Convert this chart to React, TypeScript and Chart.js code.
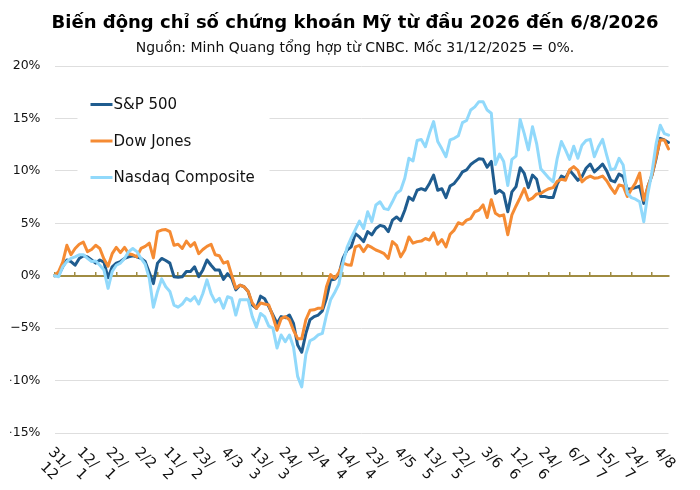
import React, { useEffect, useRef } from 'react';
import { Chart, registerables } from 'chart.js';

Chart.register(...registerables);

const FONT = '"DejaVu Sans", Verdana, sans-serif';

const titleText = 'Biến động chỉ số chứng khoán Mỹ từ đầu 2026 đến 6/8/2026';
const subtitleText = 'Nguồn: Minh Quang tổng hợp từ CNBC. Mốc 31/12/2025 = 0%.';

const categories = [
  '31/12',
  '2/1', '5/1', '6/1', '7/1', '8/1', '9/1', '12/1', '13/1', '14/1', '15/1', '16/1', '20/1', '21/1', '22/1', '23/1', '26/1', '27/1', '28/1', '29/1', '30/1',
  '2/2', '3/2', '4/2', '5/2', '6/2', '9/2', '10/2', '11/2', '12/2', '13/2', '17/2', '18/2', '19/2', '20/2', '23/2', '24/2', '25/2', '26/2', '27/2',
  '2/3', '3/3', '4/3', '5/3', '6/3', '9/3', '10/3', '11/3', '12/3', '13/3', '16/3', '17/3', '18/3', '19/3', '20/3', '23/3', '24/3', '25/3', '26/3', '27/3', '30/3', '31/3',
  '1/4', '2/4', '6/4', '7/4', '8/4', '9/4', '10/4', '13/4', '14/4', '15/4', '16/4', '17/4', '20/4', '21/4', '22/4', '23/4', '24/4', '27/4', '28/4', '29/4', '30/4',
  '1/5', '4/5', '5/5', '6/5', '7/5', '8/5', '11/5', '12/5', '13/5', '14/5', '15/5', '18/5', '19/5', '20/5', '21/5', '22/5', '26/5', '27/5', '28/5', '29/5',
  '1/6', '2/6', '3/6', '4/6', '5/6', '8/6', '9/6', '10/6', '11/6', '12/6', '15/6', '16/6', '17/6', '18/6', '22/6', '23/6', '24/6', '25/6', '26/6', '29/6', '30/6',
  '1/7', '2/7', '6/7', '7/7', '8/7', '9/7', '10/7', '13/7', '14/7', '15/7', '16/7', '17/7', '20/7', '21/7', '22/7', '23/7', '24/7', '27/7', '28/7', '29/7', '30/7', '31/7',
  '3/8', '4/8', '5/8', '6/8',
];

const sp500 = [
  0, 0.05, 0.85, 1.5, 1.35, 1.0, 1.65, 1.9, 1.8, 1.5,
  1.2, 1.5, 1.3, -0.2, 0.85, 1.2, 1.35, 1.65, 1.8, 1.9,
  1.8, 1.65, 1.35, 0.3, -0.75, 1.2, 1.65, 1.45, 1.2, -0.1,
  -0.15, -0.1, 0.4, 0.4, 0.85, -0.1, 0.55, 1.5, 1.0, 0.55,
  0.55, -0.35, 0.2, -0.25, -1.35, -0.9, -1.05, -1.5, -2.8, -3.1,
  -1.95, -2.2, -2.95, -3.75, -4.55, -3.9, -4.0, -3.75, -4.55, -6.6,
  -7.3, -5.5, -4.2, -3.9, -3.75, -3.35, -2.15, -0.4, -0.35, 0.1,
  1.65, 2.45, 2.75, 4.0, 3.7, 3.25, 4.2, 3.9, 4.5, 4.8,
  4.7, 4.2, 5.3, 5.6, 5.25, 6.25, 7.5, 7.2, 8.15, 8.3,
  8.15, 8.8, 9.6, 8.15, 8.3, 7.45, 8.55, 8.8, 9.3, 9.9,
  10.1, 10.6, 10.9, 11.15, 11.1, 10.35, 10.9, 7.85, 8.15, 7.85,
  6.1, 8.0, 8.5, 10.3, 9.75, 8.4, 9.6, 9.2, 7.55, 7.55,
  7.45, 7.45, 8.75, 9.5, 9.3, 10.05, 9.6, 9.1, 9.45, 10.25,
  10.65, 9.9, 10.25, 10.65, 10.0, 9.1, 8.95, 9.7, 9.45, 8.25,
  8.3, 8.4, 8.55, 6.9, 8.5, 9.6, 11.2, 13.1, 12.95, 12.7,
];

const dowJones = [
  0, 0.4, 1.3, 2.9, 2.0, 2.6, 3.0, 3.2, 2.3, 2.5,
  2.9, 2.6, 1.6, 0.9, 2.1, 2.7, 2.2, 2.7, 2.1, 2.0,
  1.8, 2.6, 2.8, 3.1, 1.7, 4.2, 4.35, 4.4, 4.2, 2.9,
  3.0, 2.6, 3.3, 2.8, 3.15, 2.1, 2.5, 2.8, 3.0, 2.0,
  1.9, 1.2, 1.35, 0.05, -1.2, -0.9, -1.05, -1.5, -2.6, -3.1,
  -2.6, -2.7, -2.8, -3.9, -5.2, -4.1, -3.9, -4.2, -5.2, -6.0,
  -6.0, -4.2, -3.3, -3.25, -3.1, -3.1, -1.05, 0.1, -0.25, 0.3,
  1.2, 1.05, 1.0, 2.75, 2.9, 2.3, 2.9, 2.7, 2.45, 2.3,
  2.1, 1.65, 3.25, 2.9, 1.8, 2.45, 3.7, 3.1, 3.25, 3.3,
  3.55, 3.4, 4.1, 3.0, 3.45, 2.75, 3.95, 4.35, 5.05, 4.9,
  5.3, 5.45, 6.1, 6.25, 6.75, 5.55, 7.25, 5.95, 5.7, 5.8,
  3.9, 5.8, 6.65, 7.45, 8.3, 7.2, 7.4, 7.8, 7.85, 8.1,
  8.3, 8.4, 9.0, 9.2, 9.1, 10.1, 10.4, 10.05, 8.95, 9.3,
  9.5, 9.3, 9.35, 9.5, 9.05, 8.4, 7.85, 8.65, 8.55, 7.55,
  8.25, 8.85, 9.8, 7.2, 8.5, 9.6, 11.35, 12.95, 12.95, 12.1,
];

const nasdaq = [
  0, -0.1, 0.85, 1.35, 1.65, 1.8, 2.0, 2.0, 1.65, 1.35,
  1.4, 1.0, 0.55, -1.2, 0.4, 1.0, 1.2, 1.65, 2.3, 2.6,
  2.3, 1.65, 1.1, -0.25, -3.0, -1.5, -0.3, -1.05, -1.5, -2.8,
  -3.0, -2.7, -2.15, -2.4, -2.0, -2.7, -1.7, -0.4, -1.7, -2.5,
  -2.15, -3.1, -2.0, -2.15, -3.75, -2.3, -2.3, -2.3, -3.9, -4.9,
  -3.6, -3.9, -4.8, -5.0, -6.9, -5.65, -6.3, -5.65, -6.8, -9.6,
  -10.6, -7.5, -6.2, -6.0, -5.65, -5.5, -3.75, -2.3, -1.6, -0.8,
  1.2, 2.7, 3.6, 4.4, 5.2, 4.5, 6.1, 5.15, 6.75, 7.05,
  6.4, 6.3, 7.05, 7.85, 8.15, 9.3, 11.2, 10.95, 12.9, 13.0,
  12.3, 13.6, 14.7, 12.8, 12.1, 11.35, 12.95, 13.1, 13.35, 14.6,
  14.8, 15.8, 16.1, 16.6, 16.6, 15.8, 15.5, 10.6, 11.6, 10.9,
  8.6, 11.1, 11.4, 14.9, 13.55, 12.0, 14.2, 12.6, 10.2, 9.75,
  9.3, 8.95, 11.2, 12.8, 12.0, 11.1, 12.35, 11.2, 12.45, 12.9,
  13.0, 11.35, 12.3, 13.0, 11.5, 10.1, 10.2, 11.2, 10.55, 7.85,
  7.45, 7.3, 7.05, 5.15, 7.85, 9.9, 12.6, 14.35, 13.55, 13.4,
];

const seriesNames = ['S&P 500', 'Dow Jones', 'Nasdaq Composite'];
const seriesColors = ['#1f5c8f', '#f58b33', '#91d9fb'];

const yMin = -15;
const yMax = 20;
const yStep = 5;
const labelEvery = 7;
const tickMarkEvery = 5;

const GOLD = '#a08c42';
const GRID = '#dedede';
const TEXT = '#111111';

const formatPct = (v: number) => (v < 0 ? '\u2212' : '') + Math.abs(v) + '%';

const legendBoxPlugin = {
  id: 'legendBox',
  afterDraw(chart: any) {
    const { ctx, chartArea } = chart;
    const x0 = chartArea.left + 23;
    const y0 = chartArea.top + 20;
    ctx.save();
    ctx.fillStyle = '#ffffff';
    ctx.fillRect(x0, y0, 192, 108);
    ctx.font = `15px ${FONT}`;
    ctx.textBaseline = 'middle';
    ctx.textAlign = 'left';
    chart.data.datasets.forEach((ds: any, k: number) => {
      const y = y0 + 18.5 + k * 36.5;
      ctx.strokeStyle = ds.borderColor;
      ctx.lineWidth = 3;
      ctx.beginPath();
      ctx.moveTo(x0 + 13, y);
      ctx.lineTo(x0 + 35, y);
      ctx.stroke();
      ctx.fillStyle = TEXT;
      ctx.fillText(ds.label, x0 + 36, y + 1);
    });
    ctx.restore();
  },
};

const xLabelsPlugin = {
  id: 'xLabels',
  afterDraw(chart: any) {
    const { ctx, chartArea } = chart;
    const xs = chart.scales.x;
    const labels: string[] = chart.data.labels;
    ctx.save();
    ctx.font = `14.5px ${FONT}`;
    ctx.fillStyle = TEXT;
    labels.forEach((lab, i) => {
      if (i % labelEvery !== 0) return;
      const px = xs.getPixelForValue(i);
      const cut = lab.indexOf('/') + 1;
      const lines = lab.length > 3 ? [lab.slice(0, cut), lab.slice(cut)] : [lab];
      const w = Math.max(...lines.map((l) => ctx.measureText(l).width));
      ctx.save();
      ctx.translate(px + 1, chartArea.bottom + 12);
      ctx.rotate(Math.PI / 4);
      ctx.textBaseline = 'top';
      ctx.textAlign = 'right';
      lines.forEach((l, k) => ctx.fillText(l, w, k * 16));
      ctx.restore();
    });
    ctx.restore();
  },
};

export default function App() {
  const canvasRef = useRef<HTMLCanvasElement | null>(null);

  useEffect(() => {
    if (!canvasRef.current) return;
    const values = [sp500, dowJones, nasdaq];
    const chart = new Chart(canvasRef.current, {
      type: 'line',
      data: {
        labels: categories,
        datasets: values.map((data, k) => ({
          label: seriesNames[k],
          data,
          yAxisID: 'y',
          borderColor: seriesColors[k],
          backgroundColor: seriesColors[k],
          borderWidth: 3,
          pointRadius: 0,
          pointHoverRadius: 0,
          tension: 0,
          fill: false,
          borderJoinStyle: 'round' as const,
          borderCapStyle: 'round' as const,
          order: 3 - k,
        })),
      },
      options: {
        animation: false,
        responsive: true,
        maintainAspectRatio: false,
        events: [],
        layout: { padding: { top: 0, right: 0, bottom: 57, left: 10 } },
        plugins: {
          legend: { display: false },
          tooltip: { enabled: false },
          title: {
            display: true,
            text: titleText,
            color: '#000000',
            font: { family: FONT, size: 18, weight: 'bold', lineHeight: 1.2 },
            padding: { top: 13, bottom: 0 },
          },
          subtitle: {
            display: true,
            text: subtitleText,
            color: TEXT,
            font: { family: FONT, size: 14, weight: 'normal', lineHeight: 1.2 },
            padding: { top: 5.5, bottom: 9.1 },
          },
        },
        scales: {
          x: {
            type: 'category',
            position: { y: 0 } as any,
            offset: false,
            ticks: { display: false, autoSkip: false },
            grid: {
              drawOnChartArea: false,
              drawTicks: true,
              tickLength: -5,
              lineWidth: 1.5,
              color: (c: any) => (c.index % tickMarkEvery === 0 ? GOLD : 'rgba(0,0,0,0)'),
            },
            border: { display: true, color: GOLD, width: 2 },
          },
          y: {
            position: 'left',
            min: yMin,
            max: yMax,
            afterFit: (scale: any) => {
              scale.width = 44.5;
            },
            ticks: {
              stepSize: yStep,
              padding: 14,
              color: TEXT,
              font: { family: FONT, size: 12.5 },
              callback: (v: any) => formatPct(Number(v)),
            },
            grid: {
              drawTicks: false,
              color: (c: any) => (c.tick && c.tick.value === 0 ? 'rgba(0,0,0,0)' : GRID),
              lineWidth: 1,
            },
            border: { display: false },
          },
          rightSpace: {
            type: 'linear',
            position: 'right',
            display: true,
            afterFit: (scale: any) => {
              scale.width = 31.5;
            },
            ticks: { display: false },
            grid: { display: false, drawTicks: false },
            border: { display: false },
          },
        },
      },
      plugins: [xLabelsPlugin, legendBoxPlugin],
    });
    return () => chart.destroy();
  }, []);

  return (
    <div style={{ position: 'fixed', left: 0, top: 0, width: 700, height: 490, background: '#ffffff' }}>
      <canvas ref={canvasRef} />
    </div>
  );
}
